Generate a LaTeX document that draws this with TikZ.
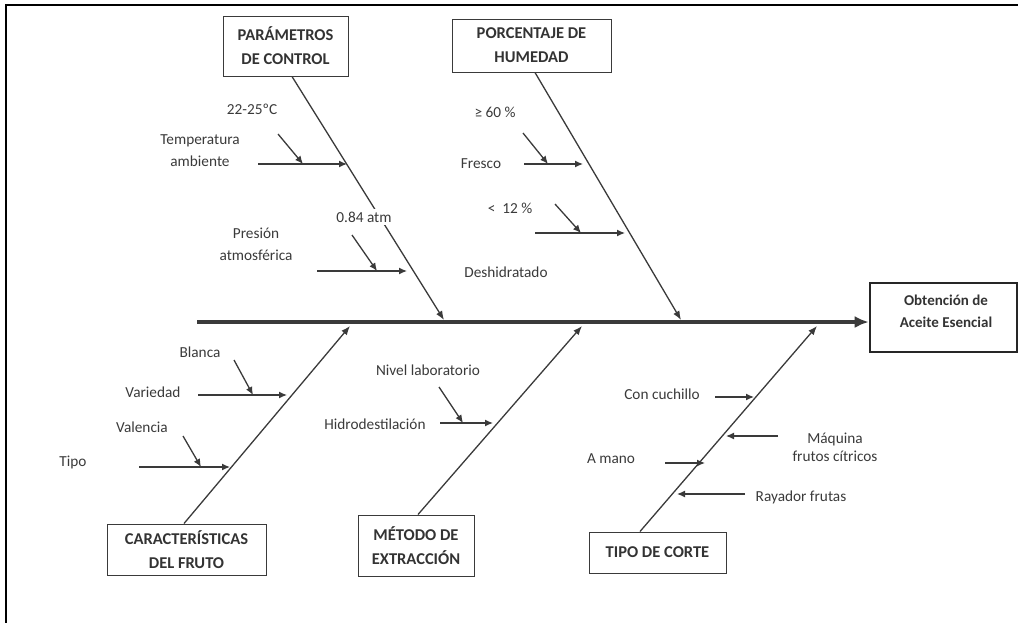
\documentclass[tikz,border=0pt]{standalone}
\usepackage{fontspec}
\setmainfont{Carlito}
\usetikzlibrary{arrows.meta}
\definecolor{ink}{HTML}{3A3A3A}
\tikzset{
  head/.style={draw=ink, line width=1pt, text=black!80, align=center, inner sep=0pt,
    font=\bfseries\fontsize{16.5}{24}\selectfont},
  lbl/.style={text=ink, align=center, inner sep=0pt, font=\fontsize{15.3}{22}\selectfont},
  bone/.style={draw=ink, line width=1.3pt, -{Latex[length=9pt,width=7pt]}},
  twig/.style={draw=ink, line width=1.3pt, -{Latex[length=8pt,width=7pt]}}
}
\begin{document}
\begin{tikzpicture}[x=1pt,y=-1pt]
\useasboundingbox (0,0) rectangle (1018,622);
\clip (0,0) rectangle (1018,622);
\draw[line width=2.4pt] (6,5) rectangle (1040,650);

\node[head, minimum width=125pt, minimum height=60pt] (par) at (285.5,46) {PARÁMETROS\\DE CONTROL};
\node[head, minimum width=159pt, minimum height=53pt] (hum) at (531.5,45.5) {PORCENTAJE DE\\HUMEDAD};
\node[head, minimum width=159pt, minimum height=51pt] (car) at (186.5,549.5) {CARACTERÍSTICAS\\DEL FRUTO};
\node[head, minimum width=116pt, minimum height=61pt] (met) at (416,545.5) {MÉTODO DE\\EXTRACCIÓN};
\node[head, minimum width=137pt, minimum height=41pt] (cor) at (657.5,552.5) {TIPO DE CORTE};
\node[head, draw=black!85, line width=2.6pt, minimum width=147pt, minimum height=69pt] (obt) at (943.5,317.5) {};
\node[head, draw=none, font=\bfseries\fontsize{15}{22}\selectfont] (obt-t) at (946,311) {Obtención de\\Aceite Esencial};

\coordinate (s0) at (197,322);
\draw[draw=ink, line width=4pt, -{Latex[length=14pt,width=12pt]}] (s0) -- (s0 -| obt.west);

\coordinate (t1) at (444,320);
\coordinate (t2) at (681,320);
\coordinate (t3) at (350,326);
\coordinate (t4) at (582,326);
\coordinate (t5) at (817,326);
\draw[bone] ([xshift=6.5pt]par.south) -- (t1);
\draw[bone] ([xshift=3.5pt]hum.south) -- (t2);
\draw[bone] ([xshift=-2.5pt]car.north) -- (t3);
\draw[bone] ([xshift=2pt]met.north) -- (t4);
\draw[bone] ([xshift=-17.5pt]cor.north) -- (t5);

\foreach \n/\xa/\xb/\y in {p1/258/347/164, p2/317/407/271, h1/524/583/164, h2/535/625/233,
  c1/198/287/395, c2/139/230/467, m1/440/493/423, k1/715/754/397, k2/665/705/463,
  k3/778/726/436, k4/745/677/494} {
  \coordinate (\n-a) at (\xa,\y);
  \coordinate (\n-b) at (\xb,\y);
  \draw[twig] (\n-a) -- (\n-b);
}
\foreach \n/\xa/\ya/\xb/\yb in {p1/278/134/303/164, p2/352/235/377/271, h1/523/133/548/164,
  h2/555/204/581/233, c1/234/360/253/395, c2/183/436/201/467, m1/439/387/463/423} {
  \coordinate (\n-c) at (\xa,\ya);
  \coordinate (\n-d) at (\xb,\yb);
  \draw[twig] (\n-c) -- (\n-d);
}

\node[lbl] (temp) at (252,109) {22-25ºC};
\node[lbl] (amb) at (200,151) {Temperatura\\ambiente};
\node[lbl, fill=white, inner sep=3pt] (atm) at (364,217) {0.84 atm};
\node[lbl] (pres) at (256,244) {Presión\\atmosférica};
\node[lbl] (mayor) at (495,112) {≥ 60 \%};
\node[lbl] (fres) at (481,164) {Fresco};
\node[lbl] (menor) at (510,208) {<\ \ 12 \%};
\node[lbl] (desh) at (506,272) {Deshidratado};
\node[lbl] (blan) at (200,352) {Blanca};
\node[lbl] (vari) at (153,392) {Variedad};
\node[lbl] (vale) at (142,427) {Valencia};
\node[lbl] (tipo) at (73,462) {Tipo};
\node[lbl] (nivel) at (428,370) {Nivel laboratorio};
\node[lbl] (hidro) at (375,424) {Hidrodestilación};
\node[lbl] (cuch) at (662,394) {Con cuchillo};
\node[lbl, font=\fontsize{15.3}{18}\selectfont] (maq) at (835,447) {Máquina\\frutos cítricos};
\node[lbl] (mano) at (611,459) {A mano};
\node[lbl] (raya) at (801,497) {Rayador frutas};
\end{tikzpicture}
\end{document}
